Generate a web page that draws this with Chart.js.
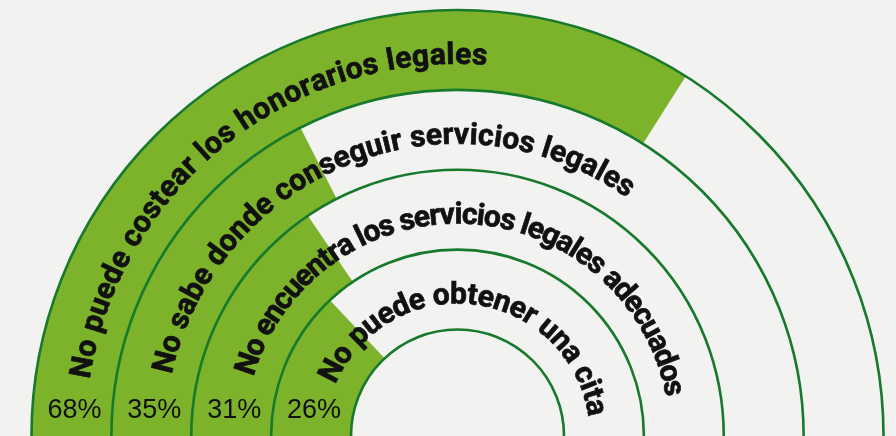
<!DOCTYPE html>
<html lang="es">
<head>
<meta charset="utf-8">
<script src="https://cdn.jsdelivr.net/npm/chart.js@4"></script>
<style>
  html, body { margin: 0; padding: 0; background: #f2f2f0; }
  #contenedor { width: 896px; height: 436px; position: relative; }
</style>
</head>
<body>
<div id="contenedor"><canvas id="graficoBarreras"></canvas></div>
<script>
// Datos del gráfico (anillo exterior primero)
const categorias = [
  "No puede costear los honorarios legales",
  "No sabe donde conseguir servicios legales",
  "No encuentra los servicios legales adecuados",
  "No puede obtener una cita"
];
const porcentajes = [68, 35, 31, 26];
const etiquetasPorcentaje = ["68%", "35%", "31%", "26%"];

const VERDE = "#7cb32b";
const VERDE_OSCURO = "#17792b";

// tramo del texto curvo en cada anillo (grados desde la izquierda)
const inicioTexto = [8.8, 12.2, 16.3, 23.1];
const finTexto = [94.5, 125.4, 169.4, 171.5];

const datasets = porcentajes.map((p, i) => ({
  label: categorias[i],
  data: [p, 100 - p],
  backgroundColor: [VERDE, "rgba(0,0,0,0)"],
  borderWidth: 0
}));

// dibuja los bordes de los anillos, el texto curvo y los porcentajes
const pluginAnillos = {
  id: "anillos",
  afterDatasetsDraw(chart) {
    const ctx = chart.ctx;
    const arcos = chart.data.datasets.map((d, i) => chart.getDatasetMeta(i).data[0]);
    const cx = arcos[0].x;
    const cy = arcos[0].y;

    // bordes
    const radios = arcos.map(a => a.outerRadius);
    radios.push(arcos[arcos.length - 1].innerRadius);
    ctx.save();
    ctx.strokeStyle = VERDE_OSCURO;
    ctx.lineWidth = 2.6;
    radios.forEach(r => {
      ctx.beginPath();
      ctx.arc(cx, cy, r, Math.PI, 2 * Math.PI);
      ctx.stroke();
    });
    ctx.restore();

    // texto curvo (avanza sobre el radio medio de la letra)
    ctx.save();
    ctx.font = "bold 30px Roboto";
    ctx.fillStyle = "#111111";
    ctx.strokeStyle = "#111111";
    ctx.lineWidth = 0.7;
    ctx.textBaseline = "alphabetic";
    ctx.textAlign = "center";
    categorias.forEach((texto, i) => {
      const r = arcos[i].innerRadius + 26;
      const rAvance = r + 10;
      const a0 = inicioTexto[i] * Math.PI / 180;
      const a1 = finTexto[i] * Math.PI / 180;
      const total = ctx.measureText(texto).width;
      const espacio = ((a1 - a0) * rAvance - total) / (texto.length - 1);
      for (let k = 0; k < texto.length; k++) {
        const letra = texto[k];
        const desplaz = ctx.measureText(texto.slice(0, k)).width + k * espacio;
        const ancho = ctx.measureText(letra).width;
        const phi = Math.PI + a0 + (desplaz + ancho / 2) / rAvance;
        ctx.save();
        ctx.translate(cx + r * Math.cos(phi), cy + r * Math.sin(phi));
        ctx.rotate(phi + Math.PI / 2);
        ctx.fillText(letra, 0, 0);
        ctx.strokeText(letra, 0, 0);
        ctx.restore();
      }
    });
    ctx.restore();

    // porcentajes
    ctx.save();
    ctx.font = "27px 'Liberation Sans'";
    ctx.fillStyle = "#111111";
    ctx.textAlign = "center";
    ctx.textBaseline = "alphabetic";
    etiquetasPorcentaje.forEach((t, i) => {
      const rm = (arcos[i].innerRadius + arcos[i].outerRadius) / 2;
      ctx.fillText(t, cx - rm + 3, cy - 18);
    });
    ctx.restore();
  }
};

new Chart(document.getElementById("graficoBarreras").getContext("2d"), {
  type: "doughnut",
  data: {
    labels: ["Porcentaje", "Resto"],
    datasets
  },
  options: {
    responsive: true,
    maintainAspectRatio: false,
    animation: false,
    circumference: 180,
    rotation: -90,
    cutout: "25%",
    layout: { padding: { left: 19, top: 10, right: 0, bottom: 0 } },
    plugins: {
      legend: { display: false },
      tooltip: { enabled: false }
    }
  },
  plugins: [pluginAnillos]
});
</script>
</body>
</html>
